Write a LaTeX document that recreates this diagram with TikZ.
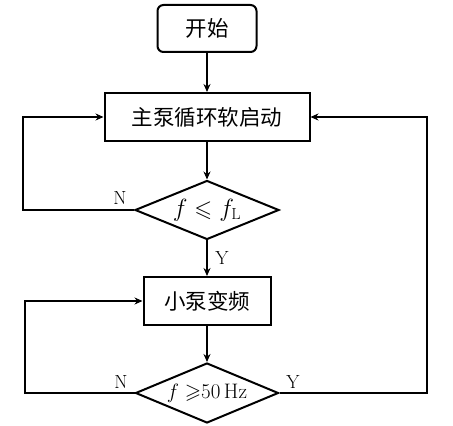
\documentclass[tikz,border=0pt]{standalone}
\usepackage{amssymb}
\usepackage{fontspec}
\newfontfamily\cjk{Noto Sans CJK SC}
\usetikzlibrary{shapes.geometric,arrows.meta}
\begin{document}
\begin{tikzpicture}[x=1pt,y=1pt,
  line width=2pt,
  flow/.style={-{Stealth[length=8pt,width=7pt]}},
  procbox/.style={draw,rectangle,inner sep=0pt,font=\cjk\fontsize{21.5}{22}\selectfont},
  decide/.style={draw,diamond,inner sep=0pt},
  dtext/.style={inner sep=0pt,font=\fontsize{23}{23}\selectfont},
  lbl/.style={font=\fontsize{19}{19}\selectfont}]
\useasboundingbox (0,0) rectangle (453,426);
\node[procbox,rounded corners=6pt,minimum width=99pt,minimum height=47pt] (start) at (207,397.5) {开始};
\node[procbox,minimum width=205pt,minimum height=48pt] (main) at (207,309) {主泵循环软启动};
\node[decide,minimum width=144pt,minimum height=59pt] (d1) at (207,216) {};
\node[dtext] (d1t) at (d1.center) {$f\leqslant f_{\mathrm{L}}$};
\node[procbox,minimum width=127pt,minimum height=48pt] (small) at (207,125) {小泵变频};
\node[decide,minimum width=143pt,minimum height=60pt] (d2) at (207,33) {};
\node[dtext,font=\fontsize{21}{21}\selectfont] (d2t) at (d2.center) {$f\geqslant$50\,Hz};
\coordinate (l1) at (23,216);
\coordinate (l1t) at (23,309);
\coordinate (l2) at (25,33);
\coordinate (l2t) at (25,125);
\coordinate (r1) at (427,33);
\coordinate (r1t) at (427,309);
\draw[flow] (start) -- (main);
\draw[flow] (main) -- (d1);
\draw[flow] (d1) -- (small);
\draw[flow] (small) -- (d2);
\draw[flow] (d1.west) -- (l1) -- (l1t) -- (main.west);
\draw[flow] (d2.west) -- (l2) -- (l2t) -- (small.west);
\draw[flow] (d2.east) -- (r1) -- (r1t) -- (main.east);
\node[lbl] (n1) at (120,228) {N};
\node[lbl] (y1) at (222,168) {Y};
\node[lbl] (n2) at (121,44) {N};
\node[lbl] (y2) at (293,44) {Y};
\end{tikzpicture}
\end{document}
